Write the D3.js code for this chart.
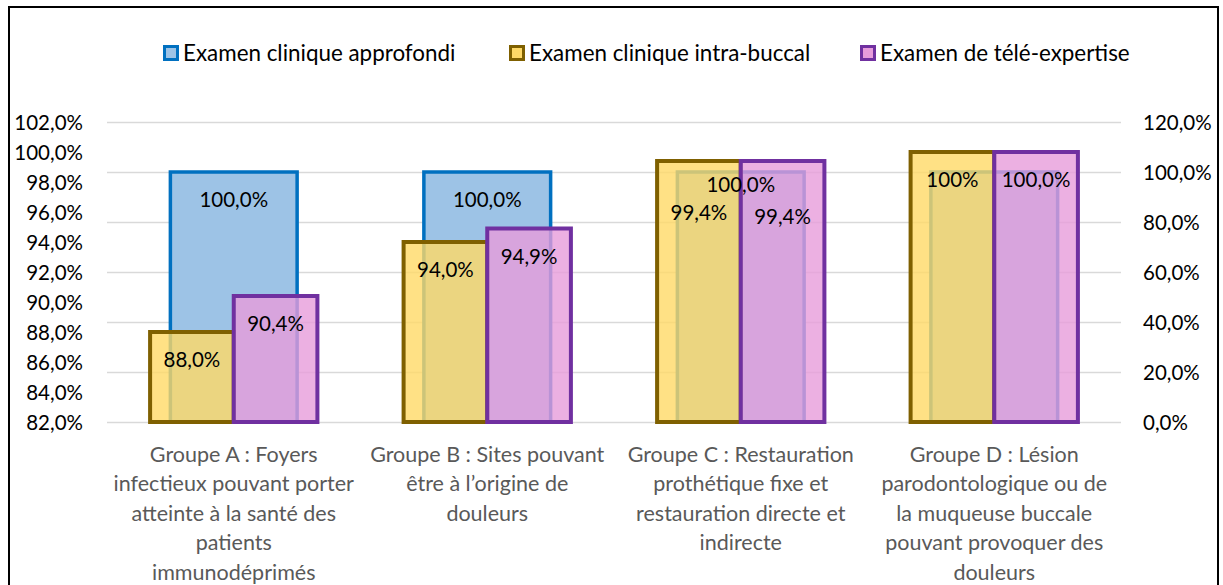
<!DOCTYPE html>
<html>
<head>
<meta charset="utf-8">
<style>
  body { margin: 0; background: #fff; }
  text { font-family: Lato, "Open Sans", sans-serif; }
</style>
</head>
<body>
<svg width="1223" height="585"></svg>
<script src="https://cdn.jsdelivr.net/npm/d3@7/dist/d3.min.js"></script>
<script>
  // ---- data ----
  var categories = ["A", "B", "C", "D"];
  var categoryLines = [
    ["Groupe A : Foyers", "infectieux pouvant porter", "atteinte à la santé des", "patients", "immunodéprimés"],
    ["Groupe B : Sites pouvant", "être à l’origine de", "douleurs"],
    ["Groupe C : Restauration", "prothétique fixe et", "restauration directe et", "indirecte"],
    ["Groupe D : Lésion", "parodontologique ou de", "la muqueuse buccale", "pouvant provoquer des", "douleurs"]
  ];
  var seriesNames = ["Examen clinique approfondi", "Examen clinique intra-buccal", "Examen de télé-expertise"];

  var approfondi = [1.0, 1.0, 1.0, 1.0];          // right axis
  var intraBuccal = [0.88, 0.94, 0.994, 1.0];     // left axis
  var teleExpertise = [0.904, 0.949, 0.994, 1.0]; // left axis

  var approfondiLabels = ["100,0%", "100,0%", "100,0%", ""];
  var intraBuccalLabels = ["88,0%", "94,0%", "99,4%", "100%"];
  var teleExpertiseLabels = ["90,4%", "94,9%", "99,4%", "100,0%"];

  var leftTicks = [0.82, 0.84, 0.86, 0.88, 0.90, 0.92, 0.94, 0.96, 0.98, 1.00, 1.02];
  var rightTicks = [0, 0.2, 0.4, 0.6, 0.8, 1.0, 1.2];

  // ---- layout ----
  var svg = d3.select("svg"),
      plotL = 107, plotR = 1121, plotT = 122, plotB = 422,
      numSize = 20.5, catSize = 21.5, legSize = 22.4;

  var colors = {
    blue: {fill: "#9dc3e6", stroke: "#0070c0"},
    yellow: {fill: "#ffd966", stroke: "#7f6000"},
    purple: {fill: "#e79cdb", stroke: "#7030a0"}
  };
  // label baseline offset from bar top; group C labels were moved by hand
  var labelOffset = 35;
  var labelNudge = {blue: {C: -15}, yellow: {C: 24}, purple: {C: 28}};

  var fr = d3.formatLocale({decimal: ",", thousands: " ", grouping: [3], currency: ["", "€"]});
  var pct = fr.format(".1%");

  var yLeft = d3.scaleLinear().domain([0.82, 1.02]).range([plotB, plotT]);
  var yRight = d3.scaleLinear().domain([0, 1.2]).range([plotB, plotT]);

  var xBlue = d3.scaleBand().domain(categories).range([plotL, plotR])
      .paddingInner(0.5).paddingOuter(0.25);
  var xPair = d3.scaleBand().domain(categories).range([plotL, plotR])
      .paddingInner(0.34).paddingOuter(0.17);
  var xSub = d3.scaleBand().domain(["yellow", "purple"]).range([0, xPair.bandwidth()]);
  var xCenter = d3.scaleBand().domain(categories).range([plotL, plotR]);

  // frame
  svg.append("rect")
      .attr("x", 9).attr("y", 7).attr("width", 1209).attr("height", 620)
      .attr("fill", "none").attr("stroke", "#000").attr("stroke-width", 2);

  // gridlines (on right-axis ticks)
  svg.append("g")
      .attr("transform", "translate(" + plotL + ",0)")
      .call(d3.axisLeft(yRight).tickValues(rightTicks).tickSize(-(plotR - plotL)).tickFormat(""))
      .call(function(g) { g.select(".domain").remove(); })
      .selectAll("line")
      .attr("stroke", "#d9d9d9").attr("stroke-width", 1.5);

  // left axis
  svg.append("g")
      .attr("transform", "translate(" + plotL + ",0)")
      .call(d3.axisLeft(yLeft).tickValues(leftTicks).tickSize(0).tickPadding(24).tickFormat(pct))
      .call(function(g) { g.select(".domain").remove(); })
      .attr("font-family", null).attr("font-size", numSize)
      .selectAll("text").attr("fill", "#000").attr("dy", "0.36em");

  // right axis
  svg.append("g")
      .attr("transform", "translate(" + plotR + ",0)")
      .call(d3.axisRight(yRight).tickValues(rightTicks).tickSize(0).tickPadding(22).tickFormat(pct))
      .call(function(g) { g.select(".domain").remove(); })
      .attr("font-family", null).attr("font-size", numSize)
      .selectAll("text").attr("fill", "#000").attr("dy", "0.36em");

  // blue bars (secondary scale)
  svg.append("g").selectAll("rect")
      .data(approfondi)
      .join("rect")
      .attr("x", function(d, i) { return xBlue(categories[i]); })
      .attr("y", function(d) { return yRight(d); })
      .attr("width", xBlue.bandwidth())
      .attr("height", function(d) { return yRight(0) - yRight(d); })
      .attr("fill", colors.blue.fill)
      .attr("stroke", colors.blue.stroke)
      .attr("stroke-width", 3.5);

  function pairBars(values, key) {
    svg.append("g").selectAll("rect")
        .data(values)
        .join("rect")
        .attr("x", function(d, i) { return xPair(categories[i]) + xSub(key); })
        .attr("y", function(d) { return yLeft(d); })
        .attr("width", xSub.bandwidth())
        .attr("height", function(d) { return yLeft(0.82) - yLeft(d); })
        .attr("fill", colors[key].fill)
        .attr("fill-opacity", 0.8)
        .attr("stroke", colors[key].stroke)
        .attr("stroke-width", 4);
  }
  pairBars(intraBuccal, "yellow");
  pairBars(teleExpertise, "purple");

  // data labels
  function labels(values, texts, key, cx, yScale) {
    svg.append("g")
        .attr("font-size", numSize)
        .attr("text-anchor", "middle")
        .selectAll("text")
        .data(values)
        .join("text")
        .attr("x", function(d, i) { return cx(i); })
        .attr("y", function(d, i) {
          var n = (labelNudge[key] && labelNudge[key][categories[i]]) || 0;
          return yScale(d) + labelOffset + n;
        })
        .attr("fill", "#000")
        .text(function(d, i) { return texts[i]; });
  }
  labels(approfondi, approfondiLabels, "blue",
      function(i) { return xBlue(categories[i]) + xBlue.bandwidth() / 2; }, yRight);
  labels(intraBuccal, intraBuccalLabels, "yellow",
      function(i) { return xPair(categories[i]) + xSub("yellow") + xSub.bandwidth() / 2; }, yLeft);
  labels(teleExpertise, teleExpertiseLabels, "purple",
      function(i) { return xPair(categories[i]) + xSub("purple") + xSub.bandwidth() / 2; }, yLeft);

  // category labels
  var cat = svg.append("g")
      .attr("font-size", catSize)
      .attr("fill", "#595959")
      .attr("text-anchor", "middle")
      .selectAll("text")
      .data(categories)
      .join("text")
      .attr("x", function(d) { return xCenter(d) + xCenter.bandwidth() / 2; })
      .attr("y", 461.5);
  cat.selectAll("tspan")
      .data(function(d, i) { return categoryLines[i]; })
      .join("tspan")
      .attr("x", function() { return d3.select(this.parentNode).attr("x"); })
      .attr("y", function(d, j) { return 461.5 + j * 29.5; })
      .text(function(d) { return d; });

  // legend
  var legendX = [163, 509, 860],
      legendKeys = ["blue", "yellow", "purple"];
  var lg = svg.append("g").selectAll("g")
      .data(seriesNames)
      .join("g")
      .attr("transform", function(d, i) { return "translate(" + legendX[i] + ",53)"; });
  lg.append("rect")
      .attr("x", 1.5).attr("y", -6.5).attr("width", 13).attr("height", 13)
      .attr("fill", function(d, i) { return colors[legendKeys[i]].fill; })
      .attr("stroke", function(d, i) { return colors[legendKeys[i]].stroke; })
      .attr("stroke-width", 3);
  lg.append("text")
      .attr("x", 20).attr("y", 7.5)
      .attr("font-size", legSize)
      .attr("fill", "#000")
      .text(function(d) { return d; });
</script>
</body>
</html>
